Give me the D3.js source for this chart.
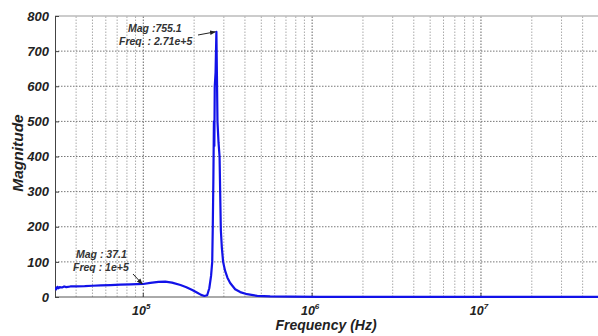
<!DOCTYPE html>
<html>
  <head lang="en">
    <meta charset="utf-8">
    <title>Magnitude vs Frequency</title>
    <script type="text/javascript" src="https://cdn.jsdelivr.net/npm/d3@7/dist/d3.min.js"></script>
    <style>
      body { margin: 0; background: #fff; }
      text { font-family: "Liberation Sans", Arial, sans-serif; font-weight: bold; font-style: italic; }
    </style>
  </head>
  <body>
    <script type="text/javascript">

      // frequency response samples (Hz) and magnitude
      var freq = [3.0e4, 3.05e4, 3.1e4, 3.15e4, 3.2e4, 3.3e4, 3.4e4, 3.5e4, 3.7e4, 4.0e4,
                  4.5e4, 5.0e4, 5.6e4, 6.4e4, 7.3e4, 8.4e4, 1.0e5, 1.1e5, 1.23e5, 1.35e5,
                  1.48e5, 1.66e5, 1.8e5, 1.95e5, 2.09e5, 2.2e5, 2.3e5, 2.39e5, 2.46e5, 2.52e5,
                  2.56e5, 2.58e5, 2.6e5, 2.62e5, 2.635e5, 2.65e5, 2.68e5, 2.71e5, 2.73e5, 2.75e5,
                  2.79e5, 2.83e5, 2.86e5, 2.88e5, 2.92e5, 2.97e5, 3.05e5, 3.15e5, 3.27e5, 3.5e5,
                  3.75e5, 4.12e5, 4.73e5, 5.64e5, 7.4e5, 1.1e6, 2e6, 1e7, 5e7];
      var mag = [27, 22, 29, 25, 28, 27, 30, 28, 30, 30.5,
                 31, 32, 33, 34, 35, 36, 37.1, 40, 43, 44,
                 41, 34, 28, 20, 12, 6, 3, 5, 25, 60,
                 100, 200, 330, 500, 430, 600, 640, 755.1, 632, 500,
                 440, 400, 270, 190, 140, 100, 75, 55, 40, 22,
                 14, 8, 3, 1.5, 0.8, 0.5, 0.4, 0.3, 0.3];

      var yTicks = [0, 100, 200, 300, 400, 500, 600, 700, 800];
      var xMajor = [1e5, 1e6, 1e7];
      var xExp = ["5", "6", "7"];

      var width = 598, height = 336;
      var margin = {top: 16, right: -1, bottom: 39, left: 55};

      var svg = d3.select("body")
                  .append("svg")
                  .attr("width", width)
                  .attr("height", height);

      svg.append("rect").attr("width", width).attr("height", height).attr("fill", "#fff");

      var x = d3.scaleLog()
                .domain([3e4, 5e7])
                .range([margin.left, width - margin.right]);
      var y = d3.scaleLinear()
                .domain([0, 800])
                .range([height - margin.bottom, margin.top]);

      // vertical grid (every 1..9 of each decade)
      var xGrid = x.ticks().filter(function(d) { return d > 3e4 && d < 5e7; });
      svg.append("g")
         .selectAll("line")
         .data(xGrid)
         .enter()
         .append("line")
         .attr("x1", function(d) { return x(d); })
         .attr("x2", function(d) { return x(d); })
         .attr("y1", y(0))
         .attr("y2", y(800))
         .attr("stroke", function(d) { return xMajor.indexOf(d) >= 0 ? "#666" : "#aaa"; })
         .attr("stroke-width", 1)
         .attr("stroke-dasharray", "1.5,1.5");

      // horizontal grid
      svg.append("g")
         .selectAll("line")
         .data(yTicks.slice(1, -1))
         .enter()
         .append("line")
         .attr("x1", x(3e4))
         .attr("x2", x(5e7))
         .attr("y1", function(d) { return y(d); })
         .attr("y2", function(d) { return y(d); })
         .attr("stroke", "#777")
         .attr("stroke-width", 1)
         .attr("stroke-dasharray", "1.5,1.5");

      // box
      svg.append("line")
         .attr("x1", x(3e4)).attr("x2", width)
         .attr("y1", y(800)).attr("y2", y(800))
         .attr("stroke", "#999");
      svg.append("line")
         .attr("x1", x(3e4)).attr("x2", width)
         .attr("y1", y(0)).attr("y2", y(0))
         .attr("stroke", "#555");

      // y axis with inward ticks
      var yAxis = svg.append("g")
         .attr("transform", "translate(" + x(3e4) + ",0)")
         .call(d3.axisLeft(y).tickValues(yTicks).tickSize(-4).tickPadding(6));
      yAxis.select(".domain").attr("stroke", "#444");
      yAxis.selectAll(".tick line").attr("stroke", "#444");
      yAxis.selectAll("text")
           .attr("font-size", 13)
           .attr("font-family", null)
           .attr("fill", "#222");

      // x axis labels 10^n
      var xl = svg.append("g")
         .selectAll("text")
         .data(xMajor)
         .enter()
         .append("text")
         .attr("x", function(d) { return x(d) - 2; })
         .attr("y", 315)
         .attr("text-anchor", "middle")
         .attr("font-size", 12.5)
         .attr("fill", "#222");
      xl.append("tspan").text("10");
      xl.append("tspan")
        .attr("dy", -6)
        .attr("font-size", 8)
        .text(function(d, i) { return xExp[i]; });

      // x ticks on bottom
      svg.append("g")
         .selectAll("line")
         .data(xMajor)
         .enter()
         .append("line")
         .attr("x1", function(d) { return x(d); })
         .attr("x2", function(d) { return x(d); })
         .attr("y1", y(0))
         .attr("y2", y(0) - 4)
         .attr("stroke", "#444");

      // curve
      svg.append("clipPath").attr("id", "clip")
         .append("rect")
         .attr("x", x(3e4)).attr("y", y(800) - 2)
         .attr("width", width).attr("height", y(0) - y(800) + 4);

      var line = d3.line()
                   .x(function(d, i) { return x(freq[i]); })
                   .y(function(d) { return y(d); });

      svg.append("path")
         .datum(mag)
         .attr("clip-path", "url(#clip)")
         .attr("d", line)
         .attr("fill", "none")
         .attr("stroke", "#1212e8")
         .attr("stroke-width", 2.2)
         .attr("stroke-linejoin", "round");

      // axis titles
      svg.append("text")
         .attr("x", 326)
         .attr("y", 330)
         .attr("text-anchor", "middle")
         .attr("font-size", 14)
         .attr("fill", "#222")
         .text("Frequency (Hz)");
      svg.append("text")
         .attr("transform", "translate(23,153) rotate(-90)")
         .attr("text-anchor", "middle")
         .attr("font-size", 15.5)
         .attr("fill", "#222")
         .text("Magnitude");

      // annotations
      svg.append("defs").append("marker")
         .attr("id", "arrow")
         .attr("viewBox", "0 0 10 10")
         .attr("refX", 9).attr("refY", 5)
         .attr("markerWidth", 6).attr("markerHeight", 6)
         .attr("orient", "auto")
         .append("path")
         .attr("d", "M0,1 L10,5 L0,9 z")
         .attr("fill", "#222");

      function note(lines, ty, ax1, ay1, f, m) {
        var g = svg.append("g");
        lines.forEach(function(t, i) {
          g.append("text")
           .attr("x", t[1])
           .attr("y", ty + i * 12.5)
           .attr("font-size", 10.5)
           .attr("fill", "#333")
           .text(t[0]);
        });
        g.append("line")
         .attr("x1", ax1).attr("y1", ay1)
         .attr("x2", x(f) - 1).attr("y2", y(m))
         .attr("stroke", "#222")
         .attr("stroke-width", 1)
         .attr("marker-end", "url(#arrow)");
      }

      note([["Mag :755.1", 128], ["Freq. : 2.71e+5", 119]], 32, 198, 35, 2.71e5, 755.1);
      note([["Mag : 37.1", 76], ["Freq : 1e+5", 73]], 258, 133, 274, 1e5, 37.1);

    </script>
  </body>
</html>
